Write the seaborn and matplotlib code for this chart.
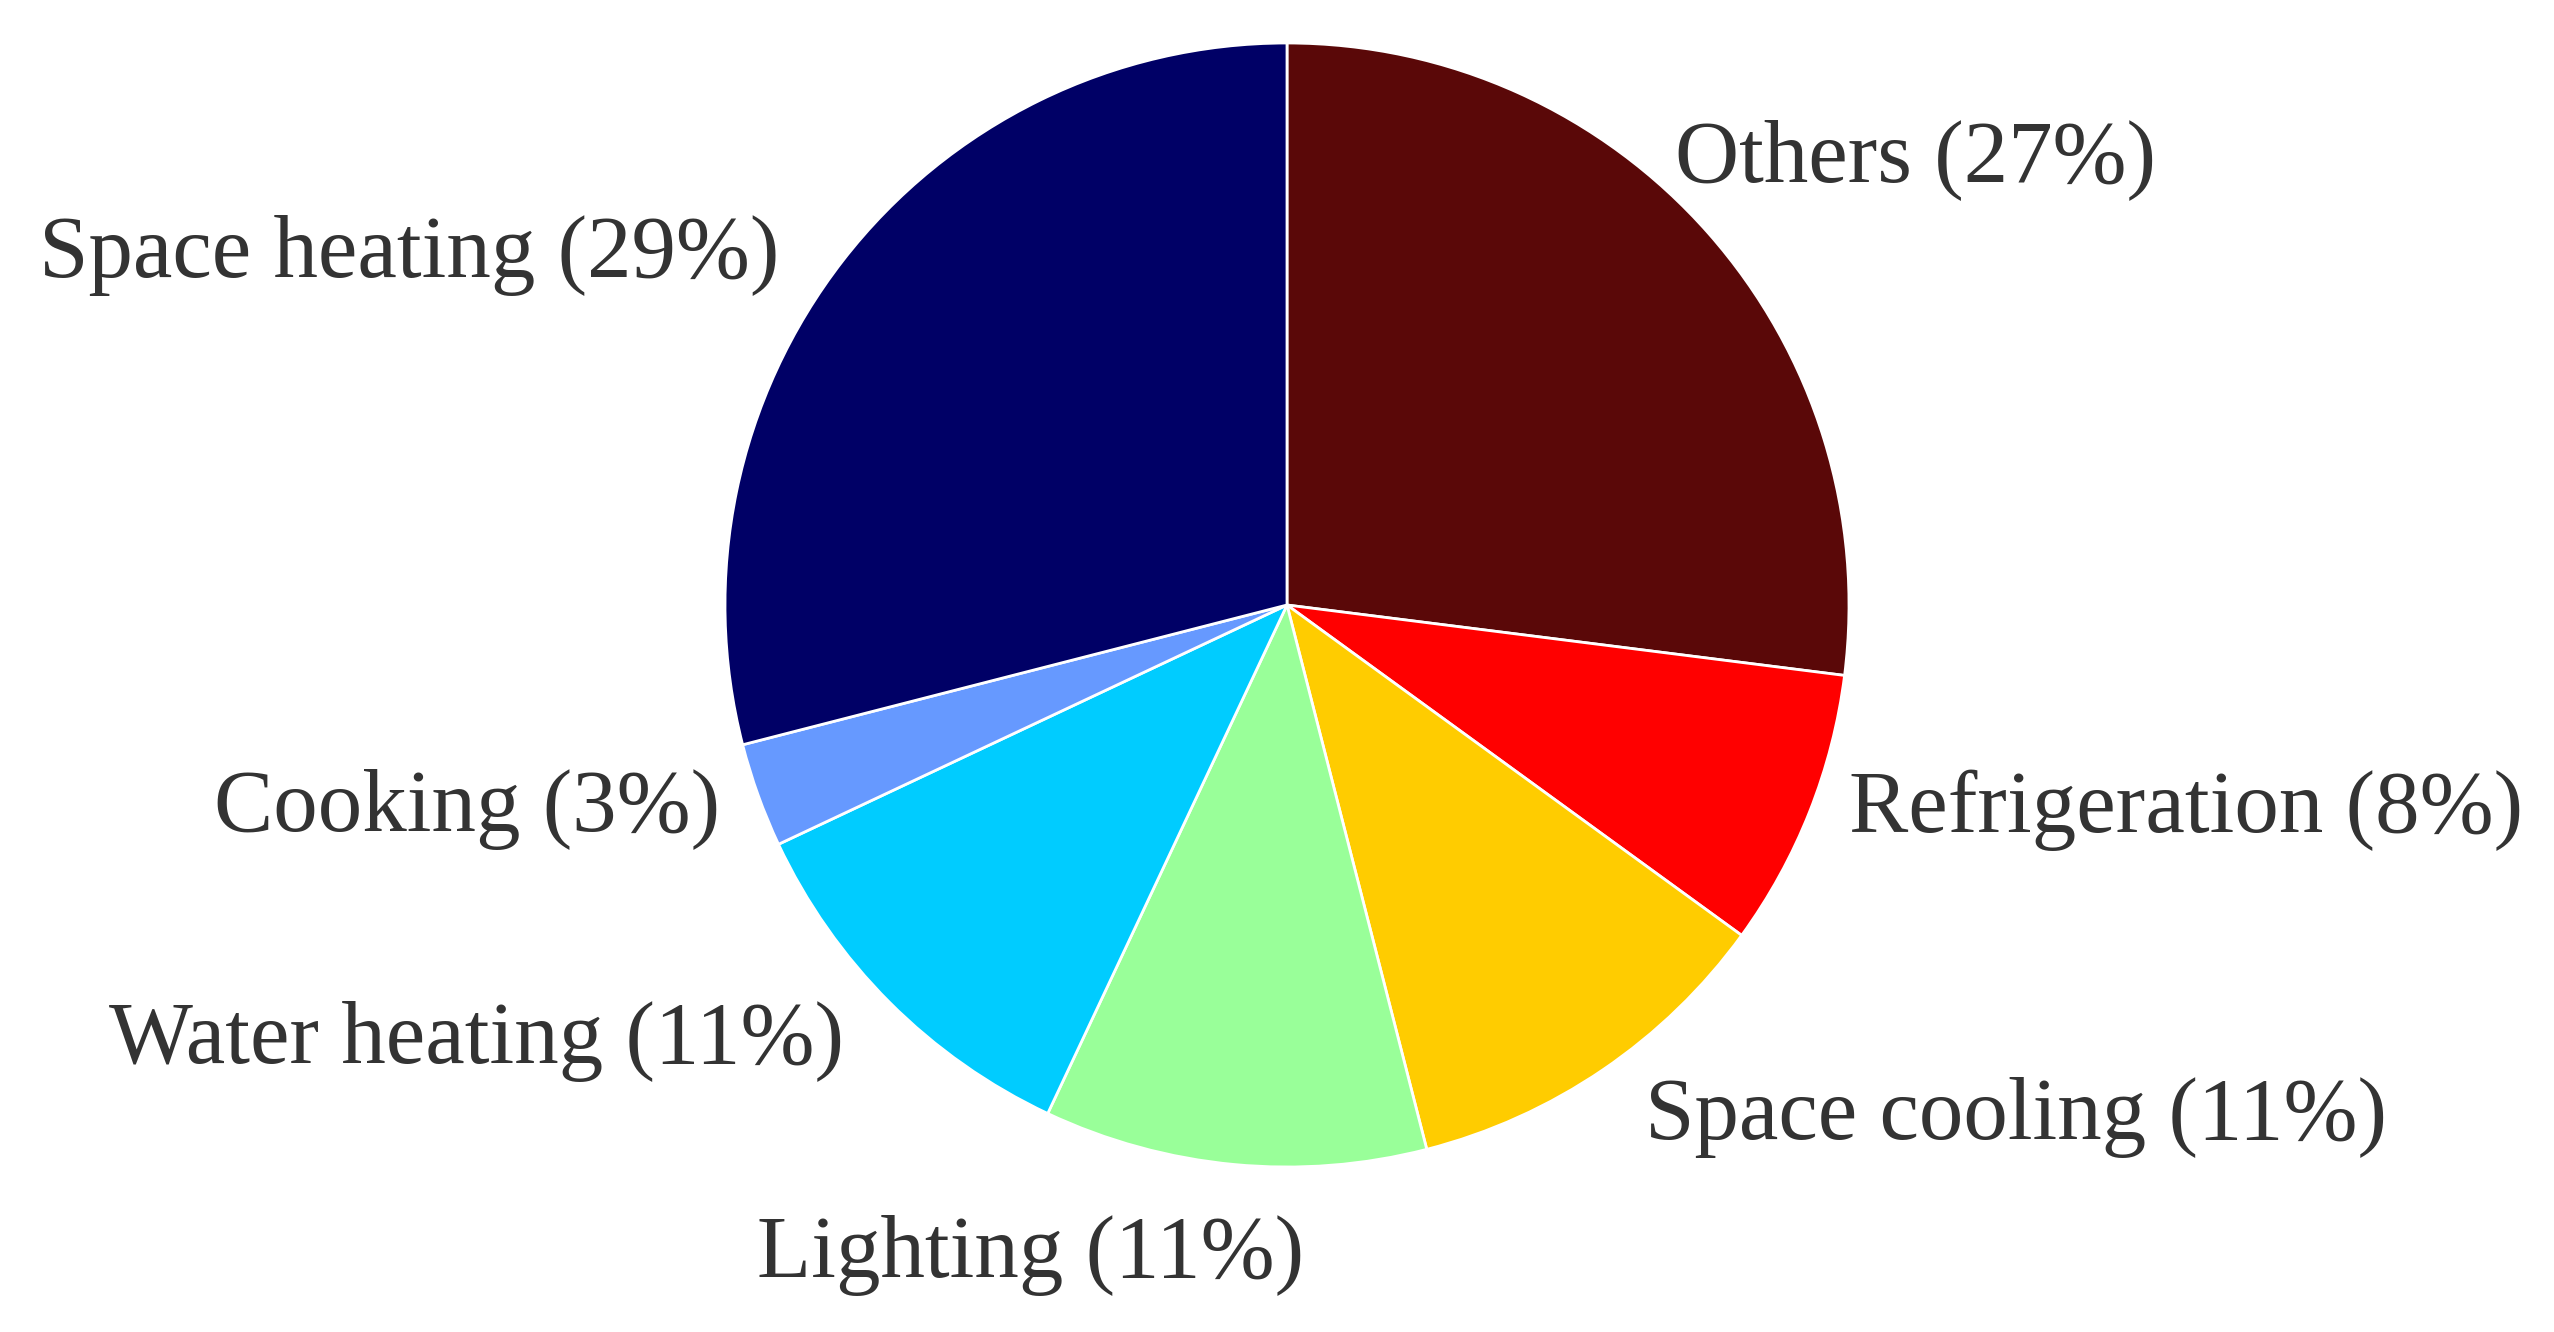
import numpy as np
import seaborn as sns
import matplotlib.pyplot as plt

# Data
categories = ["Others", "Refrigeration", "Space cooling", "Lighting",
              "Water heating", "Cooking", "Space heating"]
shares = [27, 8, 11, 11, 11, 3, 29]
colors = ["#5a0808", "#ff0000", "#ffcc00", "#99ff99",
          "#00ccff", "#6699ff", "#000066"]

sns.set_theme(style="white")
plt.rcParams['font.family'] = ['Liberation Serif', 'DejaVu Serif']

W, H = 2554, 1332
fig = plt.figure(figsize=(W / 100, H / 100), dpi=100)
ax = fig.add_axes([0, 0, 1, 1])

cx, cy, r = 1287, H - 605, 562
wedges, _ = ax.pie(shares, colors=colors, startangle=90, counterclock=False,
                   center=(cx, cy), radius=r,
                   wedgeprops=dict(edgecolor="white", linewidth=2))

# label anchors in pixel space: (x, y from top, ha)
label_pos = [(1675, 160, "left"), (1849, 810, "left"), (1645, 1117, "left"),
             (1031, 1255, "center"), (844, 1042, "right"), (720, 810, "right"),
             (779, 256, "right")]
for name, val, (x, y, ha) in zip(categories, shares, label_pos):
    ax.text(x, H - y, f"{name} ({val}%)", ha=ha, va="center",
            fontsize=64, color="#333333")

ax.set_xlim(0, W)
ax.set_ylim(0, H)
ax.set_aspect("equal")
ax.axis("off")

fig.savefig("out.png", dpi=100, facecolor="white")
